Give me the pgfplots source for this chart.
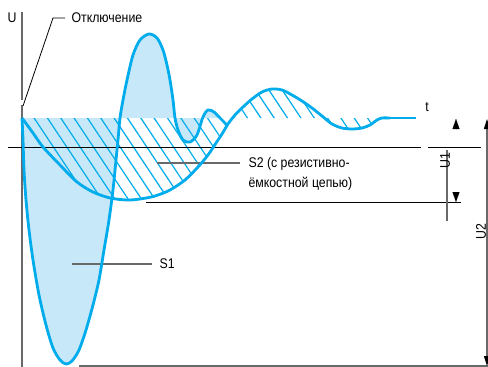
\documentclass[border=0pt]{standalone}
\usepackage{pgfplots}
\pgfplotsset{compat=1.18}
\usepackage{fontspec}
\setmainfont{Liberation Sans}[FakeStretch=0.88]
\usetikzlibrary{patterns.meta,arrows.meta}
\definecolor{wblue}{RGB}{0,172,236}
\definecolor{wfill}{RGB}{198,232,248}
\definecolor{lgray}{RGB}{105,105,105}
\newcommand{\fs}{\fontsize{14}{16}\selectfont}
\begin{document}
\begin{tikzpicture}
\begin{axis}[width=488pt,height=367pt,scale only axis,
  xmin=0,xmax=488,ymin=0,ymax=367,y dir=reverse,hide axis,clip=false]
% S1 light fill
\addplot[fill=wfill,draw=none,smooth] coordinates {
(22,118) (23,140) (24,170) (26,200) (29,230) (33,260) (39,295) (46,325) (53,348) (60,360) (66,364) (72,361) (79,350) (86,330) (93,305) (99,280) (104,250) (109,220) (113,190) (116,160) (118,140) (120,118)
(123,100) (127,80) (133,55) (140,40) (149,34) (157,38) (163,50) (167,65) (170,80) (173,100) (175,118) (178,130) (183,140) (190,142) (197,135) (203,117) (208,110) (214,112) (220,118)};
% S2 hatched region
\addplot[pattern={Lines[angle=-56.3,distance=11.1pt,line width=1.2pt]},pattern color=wblue,draw=none,smooth] coordinates {
(22,118) (33,133) (43,147) (60,165) (77,182) (93,192) (110,198) (127,200) (140,199) (155,196) (170,190) (185,180) (198,167) (208,155) (216,143) (222,134) (228,124) (235,115) (243,107) (252,99) (262,92) (272,89) (282,90) (292,95) (302,101) (312,108) (322,116) (332,124) (342,128) (352,129) (362,128) (370,125) (377,120) (382,118)};
% axis and reference lines
\addplot[lgray,line width=1.4pt] coordinates {(22,12) (22,100)};
\addplot[lgray,line width=1.4pt] coordinates {(22,105) (22,367)};
\addplot[black,line width=0.8pt] coordinates {(23,106) (53,18) (65,18)};
\addplot[black,line width=1pt] coordinates {(8,147) (421,147)};
\addplot[black,line width=1pt] coordinates {(428,147) (481,147)};
\addplot[black,line width=1pt] coordinates {(146,202) (461,202)};
\addplot[lgray,line width=1.2pt] coordinates {(79,366) (488,366)};
\addplot[lgray,line width=1.2pt] coordinates {(447,150) (447,221)};
\addplot[lgray,line width=1.2pt,{Triangle[black,length=10pt,width=6pt]}-{Triangle[black,length=10pt,width=6pt]}] coordinates {(487,119) (487,366)};
\addplot[black,line width=0.01pt,-{Triangle[length=10pt,width=7pt]}] coordinates {(456,129.5) (456,119)};
\addplot[black,line width=0.01pt,-{Triangle[length=10pt,width=7pt]}] coordinates {(456,191.5) (456,202)};
% leader lines
\addplot[lgray,line width=1.2pt] coordinates {(72,264) (152,264)};
\addplot[lgray,line width=1.2pt] coordinates {(157,163) (240,163)};
% curves
\addplot[wblue,line width=2.8pt,smooth] coordinates {
(22,118) (23,140) (24,170) (26,200) (29,230) (33,260) (39,295) (46,325) (53,348) (60,360) (66,364) (72,361) (79,350) (86,330) (93,305) (99,280) (104,250) (109,220) (113,190) (116,160) (118,140) (120,118)
(123,100) (127,80) (133,55) (140,40) (149,34) (157,38) (163,50) (167,65) (170,80) (173,100) (175,118) (178,130) (183,140) (190,142) (197,135) (203,117) (208,110) (214,112) (220,118) (227,125)};
\addplot[wblue,line width=2.8pt,smooth] coordinates {
(22,118) (33,133) (43,147) (60,165) (77,182) (93,192) (110,198) (127,200) (140,199) (155,196) (170,190) (185,180) (198,167) (208,155) (216,143) (222,134) (228,124) (235,115) (243,107) (252,99) (262,92) (272,89) (282,90) (292,95) (302,101) (312,108) (322,116) (332,124) (342,128) (352,129) (362,128) (370,125) (377,120) (382,118) (390,118)};
\addplot[wblue,line width=2.8pt] coordinates {(388,118) (416,118)};
% texts
\node[font=\fs] at (12,18) {U};
\node[font=\fs,anchor=west] at (68,18) {Отключение};
\node[font=\fs] at (427,107) {t};
\node[font=\fs,anchor=west] at (156,264) {S1};
\node[font=\fs,anchor=west] at (245,164) {S2 (с резистивно-};
\node[font=\fs,anchor=west] at (245,184) {ёмкостной цепью)};
\node[font=\fs,rotate=90] at (445,161) {U1};
\node[font=\fs,rotate=90] at (481,232) {U2};
\end{axis}
\pgfresetboundingbox
\path[use as bounding box] (current axis.south west) rectangle (current axis.north east);
\end{tikzpicture}
\end{document}
